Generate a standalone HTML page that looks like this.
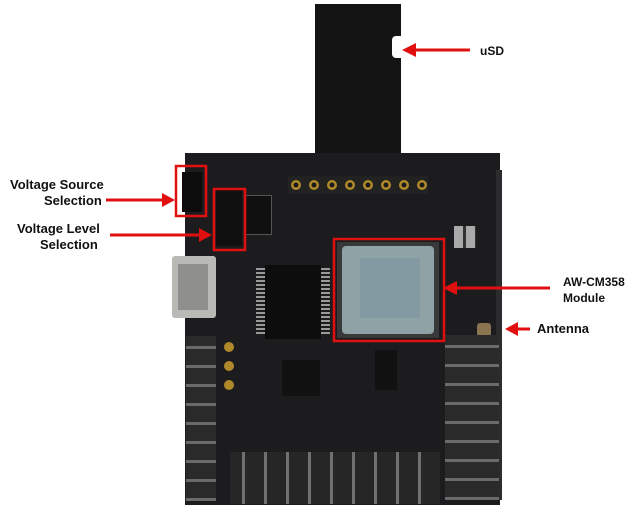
<!DOCTYPE html>
<html><head><style>
body{margin:0;width:638px;height:519px;background:#fff;position:relative;overflow:hidden;font-family:"Liberation Sans",Arial,sans-serif}
.a{position:absolute}
.t{position:absolute;font-weight:bold;font-size:13px;color:#111;line-height:16px}
</style></head><body>
<!-- SD card -->
<div class="a" style="left:315px;top:4px;width:86px;height:160px;background:#141414"></div>
<div class="a" style="left:392px;top:36px;width:10px;height:22px;background:#fff;border-radius:4px 0 0 4px"></div>
<!-- board -->
<div class="a" style="left:185px;top:153px;width:315px;height:352px;background:#1c1c1e"></div>
<div class="a" style="left:496px;top:170px;width:6px;height:330px;background:#2c2c2e"></div>
<!-- header CON2 -->
<div class="a" style="left:288px;top:176px;width:140px;height:18px;background:#222"></div>
<svg class="a" style="left:0;top:0" width="638" height="519">
<g fill="#b08a2a"><circle cx="296" cy="185" r="5"/><circle cx="314" cy="185" r="5"/><circle cx="332" cy="185" r="5"/><circle cx="350" cy="185" r="5"/><circle cx="368" cy="185" r="5"/><circle cx="386" cy="185" r="5"/><circle cx="404" cy="185" r="5"/><circle cx="422" cy="185" r="5"/></g>
<g fill="#1c1c1e"><circle cx="296" cy="185" r="2.5"/><circle cx="314" cy="185" r="2.5"/><circle cx="332" cy="185" r="2.5"/><circle cx="350" cy="185" r="2.5"/><circle cx="368" cy="185" r="2.5"/><circle cx="386" cy="185" r="2.5"/><circle cx="404" cy="185" r="2.5"/><circle cx="422" cy="185" r="2.5"/></g>
<g fill="#b08a2a"><circle cx="229" cy="347" r="5"/><circle cx="229" cy="366" r="5"/><circle cx="229" cy="385" r="5"/></g>
</svg>
<!-- jumpers -->
<div class="a" style="left:182px;top:172px;width:20px;height:40px;background:#0c0c0c"></div>
<div class="a" style="left:216px;top:190px;width:26px;height:56px;background:#0f0f0f"></div>
<div class="a" style="left:245px;top:195px;width:25px;height:38px;background:#101010;border:1px solid #555"></div>
<!-- USB -->
<div class="a" style="left:172px;top:256px;width:44px;height:62px;background:#b9b9b5;border-radius:3px"></div>
<div class="a" style="left:178px;top:264px;width:30px;height:46px;background:#8f8f8c"></div>
<!-- IC -->
<div class="a" style="left:265px;top:265px;width:56px;height:74px;background:#0d0d0d"></div>
<div class="a" style="left:256px;top:268px;width:9px;height:68px;background:repeating-linear-gradient(#999 0 2px,transparent 2px 4px)"></div>
<div class="a" style="left:321px;top:268px;width:9px;height:68px;background:repeating-linear-gradient(#999 0 2px,transparent 2px 4px)"></div>
<div class="a" style="left:454px;top:226px;width:22px;height:22px;background:repeating-linear-gradient(90deg,#aaa 0 9px,#333 9px 12px)"></div>
<!-- module -->
<div class="a" style="left:337px;top:242px;width:102px;height:96px;background:#383a3a"></div>
<div class="a" style="left:342px;top:246px;width:92px;height:88px;background:#8fa2a6;border-radius:4px"></div>
<div class="a" style="left:360px;top:258px;width:60px;height:60px;background:#7f98a2;opacity:.8"></div>
<!-- antenna connector -->
<div class="a" style="left:477px;top:323px;width:14px;height:14px;background:#8a7550;border-radius:3px"></div>
<!-- pin headers -->
<div class="a" style="left:186px;top:336px;width:30px;height:165px;background:repeating-linear-gradient(#2a2a2a 0 10px,#6a6a6a 10px 13px,#2a2a2a 13px 19px)"></div>
<div class="a" style="left:445px;top:335px;width:54px;height:165px;background:repeating-linear-gradient(#2a2a2a 0 10px,#6a6a6a 10px 13px,#2a2a2a 13px 19px)"></div>
<div class="a" style="left:230px;top:452px;width:210px;height:52px;background:repeating-linear-gradient(90deg,#262626 0 12px,#707070 12px 15px,#262626 15px 22px)"></div>
<div class="a" style="left:375px;top:350px;width:22px;height:40px;background:#111"></div>
<div class="a" style="left:282px;top:360px;width:38px;height:36px;background:#111"></div>
<!-- red boxes & arrows -->
<svg class="a" style="left:0;top:0" width="638" height="519">
<g fill="none" stroke="#e01010" stroke-width="2.5">
<rect x="176" y="166" width="30" height="50"/>
<rect x="214" y="189" width="31" height="61"/>
<rect x="334" y="239" width="110" height="102"/>
</g>
<g stroke="#e01010" stroke-width="3">
<line x1="106" y1="200" x2="166" y2="200"/>
<line x1="110" y1="235" x2="203" y2="235"/>
<line x1="470" y1="50" x2="414" y2="50"/>
<line x1="550" y1="288" x2="455" y2="288"/>
<line x1="530" y1="329" x2="516" y2="329"/>
</g>
<g fill="#e01010">
<polygon points="175,200 162,193 162,207"/>
<polygon points="212,235 199,228 199,242"/>
<polygon points="402,50 416,43 416,57"/>
<polygon points="443,288 457,281 457,295"/>
<polygon points="505,329 518,322 518,336"/>
</g>
</svg>
<div class="t" style="left:10px;top:177px">Voltage Source</div>
<div class="t" style="left:44px;top:193px">Selection</div>
<div class="t" style="left:17px;top:221px">Voltage Level</div>
<div class="t" style="left:40px;top:237px">Selection</div>
<div class="t" style="left:480px;top:43px;font-size:12px">uSD</div>
<div class="t" style="left:563px;top:274px;font-size:12px">AW-CM358</div>
<div class="t" style="left:563px;top:290px;font-size:12px">Module</div>
<div class="t" style="left:537px;top:321px">Antenna</div>
</body></html>
